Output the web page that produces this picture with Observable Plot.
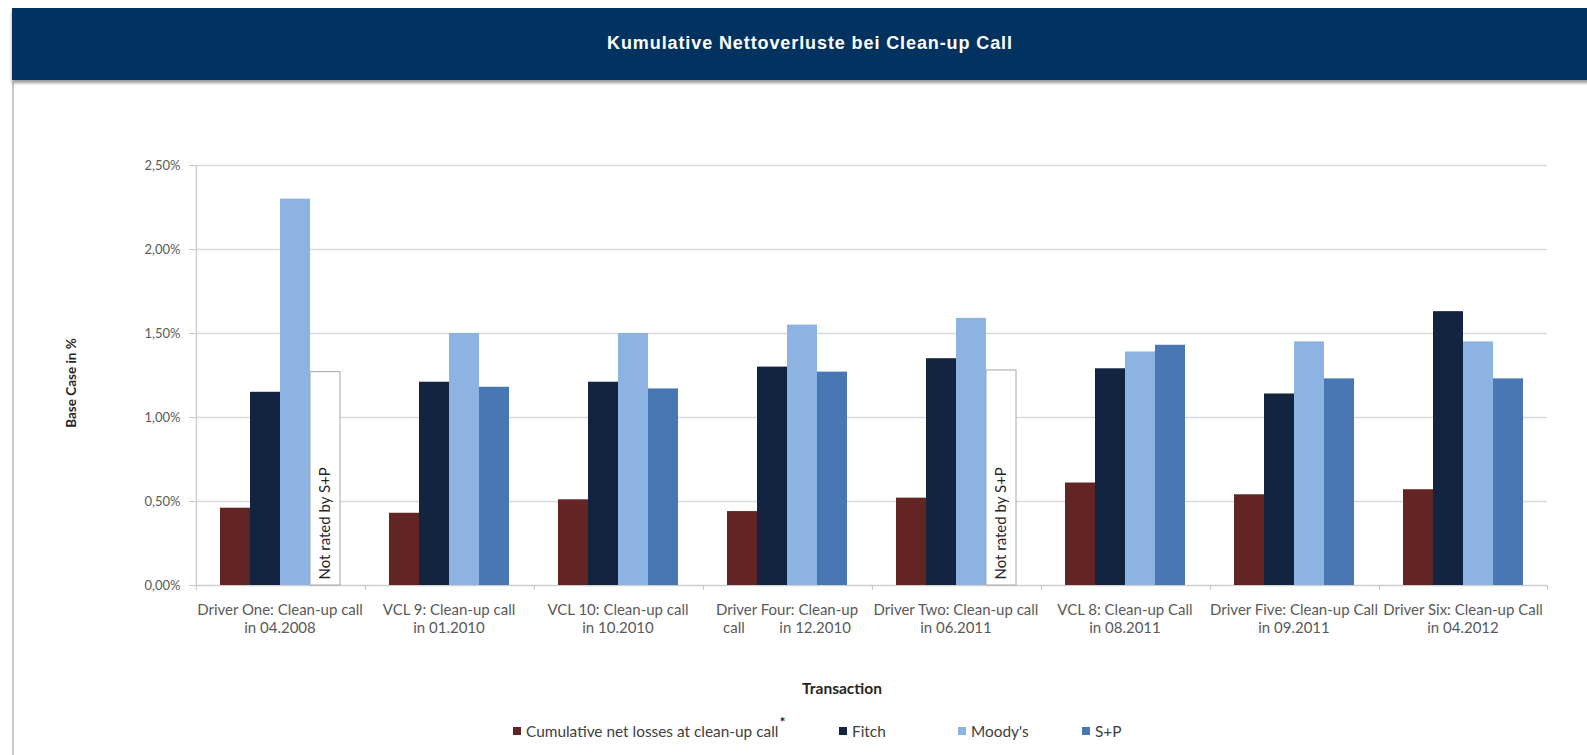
<!DOCTYPE html>
<html>
<head>
<meta charset="utf-8">
<script src="https://cdn.jsdelivr.net/npm/d3@7"></script>
<script src="https://cdn.jsdelivr.net/npm/@observablehq/plot@0.6"></script>
<style>
  body { margin: 0; background: #fff; }
  #wrap { position: relative; width: 1587px; height: 755px; overflow: hidden; font-family: Lato, "Open Sans", sans-serif; background: #fff; }
  #chart { position: absolute; left: 0; top: 0; }
  #frameLine { position: absolute; left: 12px; top: 82px; width: 2px; height: 680px; background: #c9c9c9; }
  #band { position: absolute; left: 12px; top: 8px; width: 1580px; height: 72px; background: #02325f; box-shadow: 0 3px 3px rgba(0,0,0,0.4); }
  #title { position: absolute; left: 360px; width: 900px; top: 33px; text-align: center; color: #fff; font: bold 18px "Liberation Sans", Arial, sans-serif; letter-spacing: 0.9px; }
  #ylabel { position: absolute; left: 71px; top: 383px; transform: translate(-50%, -50%) rotate(-90deg); font-weight: bold; font-size: 13.5px; color: #262626; white-space: nowrap; }
  #xlabel { position: absolute; left: 842px; top: 688px; transform: translate(-50%, -50%); font-weight: bold; font-size: 15.5px; color: #262626; white-space: nowrap; }
  .leg { position: absolute; top: 731px; transform: translateY(-50%); font-size: 15.4px; color: #404040; white-space: nowrap; display: flex; align-items: center; }
  .sw { width: 8px; height: 8px; margin-right: 5px; display: inline-block; }
  .ast { position: relative; top: -9px; margin-left: 1px; font-size: 14px; font-weight: bold; color: #10243f; line-height: 1; }
</style>
</head>
<body>
<div id="wrap">
  <div id="frameLine"></div>
  <div id="band"></div>
  <div id="title"></div>
  <div id="chart"></div>
  <div id="ylabel"></div>
  <div id="xlabel"></div>
  <div id="legend"></div>
</div>
<script>
const chartTitle = "Kumulative Nettoverluste bei Clean-up Call";
const yTitle = "Base Case in %";
const xTitle = "Transaction";
const transactions = [
  "Driver One: Clean-up call in 04.2008",
  "VCL 9: Clean-up call in 01.2010",
  "VCL 10: Clean-up call in 10.2010",
  "Driver Four: Clean-up call in 12.2010",
  "Driver Two: Clean-up call in 06.2011",
  "VCL 8: Clean-up Call in 08.2011",
  "Driver Five: Clean-up Call in 09.2011",
  "Driver Six: Clean-up Call in 04.2012"
];
const tickLabels = [
  "Driver One: Clean-up call\nin 04.2008",
  "VCL 9: Clean-up call\nin 01.2010",
  "VCL 10: Clean-up call\nin 10.2010",
  "Driver Four: Clean-up\ncall\u00a0\u00a0\u00a0\u00a0\u00a0\u00a0\u00a0\u00a0\u00a0in 12.2010",
  "Driver Two: Clean-up call\nin 06.2011",
  "VCL 8: Clean-up Call\nin 08.2011",
  "Driver Five: Clean-up Call\nin 09.2011",
  "Driver Six: Clean-up Call\nin 04.2012"
];
const series = ["Cumulative net losses at clean-up call", "Fitch", "Moody's", "S+P"];
const seriesFootnote = ["*", "", "", ""];
const netLosses = [0.46, 0.43, 0.51, 0.44, 0.52, 0.61, 0.54, 0.57];
const fitch     = [1.15, 1.21, 1.21, 1.30, 1.35, 1.29, 1.14, 1.63];
const moodys    = [2.30, 1.50, 1.50, 1.55, 1.59, 1.39, 1.45, 1.45];
const sp        = [null, 1.18, 1.17, 1.27, null, 1.43, 1.23, 1.23];
const notRatedBox = [1.27, null, null, null, 1.28, null, null, null];
const notRatedText = "Not rated by S+P";
const yTicks = [0, 0.5, 1, 1.5, 2, 2.5];
const colors = ["#632523", "#12243f", "#8db3e2", "#4877b4"];

document.getElementById("title").textContent = chartTitle;
document.getElementById("ylabel").textContent = yTitle;
document.getElementById("xlabel").textContent = xTitle;

const seriesValues = [netLosses, fitch, moodys, sp];
const bars = [];
transactions.forEach((t, i) => {
  seriesValues.forEach((arr, j) => {
    if (arr[i] != null) bars.push({transaction: t, series: series[j], value: arr[i]});
  });
});
const notRated = transactions
  .map((t, i) => ({transaction: t, value: notRatedBox[i]}))
  .filter(d => d.value != null);

const W = 1587, H = 755, mL = 192, mR = 37, mT = 165, mB = 170;
const pOuter = 0.783;
const facetW = (W - mL - mR) / transactions.length;
const step = facetW / (series.length + 2 * pOuter);
const edge = (pOuter + 0.5) * step;
const fmt = d => d.toFixed(2).replace(".", ",") + "%";

const chart = Plot.plot({
  width: W, height: H,
  marginLeft: mL, marginRight: mR, marginTop: mT, marginBottom: mB,
  fx: {domain: transactions, paddingInner: 0, paddingOuter: 0, axis: null, label: null},
  x: {domain: series, paddingInner: 0, paddingOuter: pOuter, axis: null},
  y: {domain: [0, 2.5], axis: null},
  color: {domain: series, range: colors},
  style: {fontFamily: "Lato, 'Open Sans', sans-serif", fontSize: "14px", background: "transparent"},
  marks: [
    Plot.ruleY(yTicks.filter(d => d > 0), {stroke: "#d9d9d9", strokeWidth: 1.5}),
    Plot.ruleY([0], {stroke: "#cfcfcf", strokeWidth: 1.5}),
    Plot.axisY({ticks: yTicks, tickFormat: fmt, tickSize: 6, tickPadding: 9, stroke: "#c4c4c4", fill: "#595959", fontSize: 13, label: null}),
    Plot.ruleX([transactions[0]], {fx: d => d, x: () => series[0], dx: -edge, y1: () => 0, y2: () => 2.5, stroke: "#cfcfcf", strokeWidth: 1.5}),
    Plot.ruleX(transactions, {fx: d => d, x: () => series[0], dx: -edge, y1: () => 0, y2: () => -0.03, stroke: "#c4c4c4"}),
    Plot.ruleX([transactions[transactions.length - 1]], {fx: d => d, x: () => series[series.length - 1], dx: edge, y1: () => 0, y2: () => -0.03, stroke: "#c4c4c4"}),
    Plot.barY(bars, {fx: "transaction", x: "series", y: "value", fill: "series"}),
    Plot.barY(notRated, {fx: "transaction", x: () => series[3], y: "value", fill: "white", stroke: "#a6a6a6", strokeWidth: 1}),
    Plot.text(notRated, {fx: "transaction", x: () => series[3], y: () => 0, text: () => notRatedText, rotate: -90, textAnchor: "start", dy: -6, fill: "#262626", fontSize: 15}),
    Plot.text(transactions, {fx: d => d, frameAnchor: "bottom", text: (d, i) => tickLabels[i], lineAnchor: "middle", lineHeight: 1.2, dy: 33, fill: "#595959", fontSize: 15})
  ]
});
document.getElementById("chart").appendChild(chart);

// legend
const legendX = [513, 839, 958, 1082];
const legend = document.getElementById("legend");
series.forEach((s, i) => {
  const item = document.createElement("div");
  item.className = "leg";
  item.style.left = legendX[i] + "px";
  const sw = document.createElement("span");
  sw.className = "sw";
  sw.style.background = colors[i];
  item.appendChild(sw);
  item.appendChild(document.createTextNode(s));
  if (seriesFootnote[i]) {
    const a = document.createElement("span");
    a.className = "ast";
    a.textContent = seriesFootnote[i];
    item.appendChild(a);
  }
  legend.appendChild(item);
});
</script>
</body>
</html>
